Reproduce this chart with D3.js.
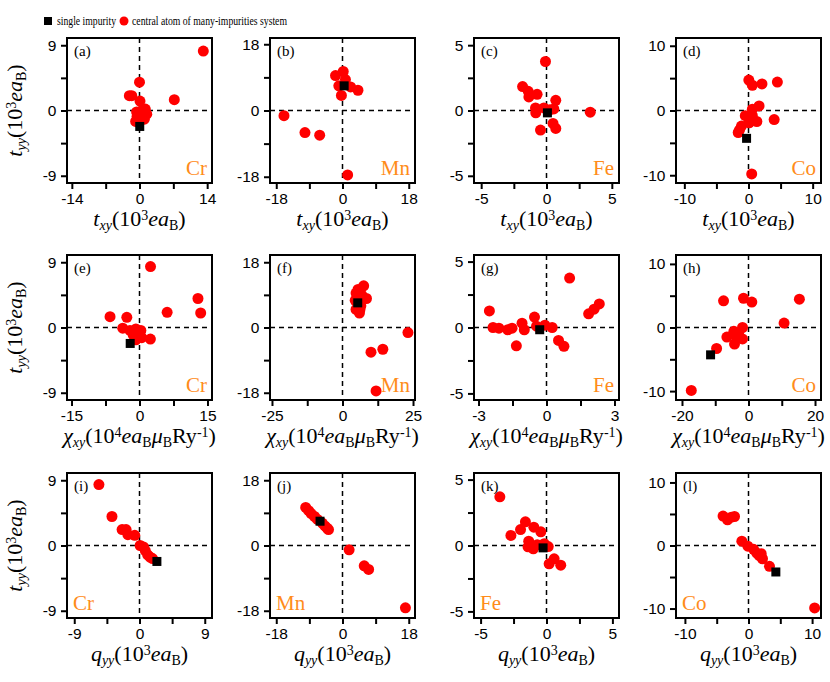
<!DOCTYPE html>
<html><head><meta charset="utf-8">
<script src="https://cdn.jsdelivr.net/npm/d3@7"></script>
<style>body{margin:0;background:#fff}</style>
</head><body>
<svg id="c" width="830" height="682"></svg>
<script>
// ---------- DATA ----------
const panelLabels = ["(a)","(b)","(c)","(d)","(e)","(f)","(g)","(h)","(i)","(j)","(k)","(l)"];
const elements = ["Cr","Mn","Fe","Co"];
const xTickVals = [[-14,0,14],[-18,0,18],[-5,0,5],[-10,0,10],[-15,0,15],[-25,0,25],[-3,0,3],[-20,0,20],[-9,0,9],[-18,0,18],[-5,0,5],[-10,0,10]];
const yTickVals = [[-9,0,9],[-18,0,18],[-5,0,5],[-10,0,10],[-9,0,9],[-18,0,18],[-5,0,5],[-10,0,10],[-9,0,9],[-18,0,18],[-5,0,5],[-10,0,10]];
const xLimits = [15,19.7,5.55,11.3,16,25.7,3.2,21.8,10,19.7,5.5,11.4];
const yLimits = [10,19.7,5.55,11.2,10,20,5.5,11.4,10,20,5.5,11.5];

// single impurity (x, y) per panel
const singleX = [0.05,0.45,0.07,-0.3,-2.05,5.4,-0.3,-11.4,2.4,-6.1,-0.26,4.3];
const singleY = [-2.2,6.7,-0.18,-4.3,-2.2,6.8,-0.17,-4.3,-2.2,6.7,-0.18,-4.2];

// central atoms of many-impurities systems
const aX = [13.2,0,-2.1,-1.6,0.1,7.2,-0.6,0.3,1.2,1.5,-0.5,0.6,-0.8,0.2,1.0,-0.3,0.7,-0.2];
const aY = [8.2,3.9,2.05,2.05,1.3,1.5,-0.2,-0.1,0.2,-0.5,-0.8,-0.6,-1.5,-1.2,-1.2,-1.6,0.1,-0.5];
const bX = [-15.9,-10.2,-6.2,1.4,4.2,-1.9,0.2,-1,-0.3,2.2,0.8];
const bY = [-1.4,-6.0,-6.7,-17.5,5.5,9.5,10.6,6.7,4.1,6.4,8.4];
const cX = [-0.08,-1.83,-1.4,-1.35,-0.72,0.71,3.35,-0.84,-0.82,0.56,0.25,-0.2,0.5,0.71,-0.46];
const cY = [3.75,1.83,1.47,1.04,1.24,0.78,-0.13,0.2,-0.18,0.12,0.05,0.2,-0.99,-1.37,-1.5];
const dX = [0.05,0.6,2.1,4.5,1.65,0.6,4.0,-0.5,1.3,0.3,-1.1,-1.4,-1.6,0.1,0.6,0.5];
const dY = [4.7,3.9,4.1,4.4,0.7,0.2,-1.4,-0.8,-1.7,-0.9,-2.4,-3.0,-3.4,-1.9,-0.8,-9.8];
const eX = [2.43,12.9,13.5,6.1,-6.5,-2.8,-3.7,-2.1,-0.8,0.3,-1.4,0,0.5,-0.8,2.4];
const eY = [8.4,4.0,2.0,2.1,1.5,1.4,-0.1,-0.4,-0.2,-0.4,-1.0,-1.2,-1.4,-1.7,-1.6];
const fX = [23.2,10.1,14.3,11.9,5.5,7.5,4.8,8.5,6.8,4.5,6.5,4.8,6.0,7.0,5.2,6.2];
const fY = [-1.4,-6.8,-6.0,-17.5,10.5,11.5,9.5,8.0,9.0,7.5,6.0,5.0,4.0,7.8,8.5,5.0];
const gX = [1.02,-2.52,1.86,2.1,2.33,-0.53,-1.08,-2.36,-2.1,-1.71,-1.52,-0.98,-1.33,-0.44,-0.07,0.25,0.53,0.77];
const gY = [3.75,1.26,1.04,1.39,1.79,0.79,0.33,0,-0.05,-0.17,-0.05,-0.17,-1.39,0.1,0.18,0.0,-0.98,-1.43];
const hX = [-17.2,15.3,10.7,-7.5,-1.5,1.0,-9.6,-6.5,-4.4,-1.8,-3.5,-4.2,-1.8,-3.0];
const hY = [-9.9,4.45,0.69,4.2,4.6,4.0,-3.3,-1.5,-0.6,0,-1.7,-2.6,-1.8,-0.9];
const iX = [-5.6,-3.8,-2.4,-1.85,-1.6,-0.65,0.09,0.55,0.8,1.13,1.45,1.8];
const iY = [8.4,4.0,2.2,2.2,1.5,1.4,0,-0.2,-0.7,-1.3,-1.6,-1.8];
const jX = [-10,-9.2,-8.5,-7.6,-6.8,-5.5,-4.8,-4.2,-3.8,1.8,5.9,7.1,17.1];
const jY = [10.5,9.6,8.8,8.0,7.2,6.2,5.4,4.8,4.4,-1.2,-5.6,-6.6,-17.2];
const kX = [-3.54,-1.6,-1.97,-2.7,-0.96,-0.43,-1.35,-1.4,-1.0,-0.7,-0.17,0.13,0.2,0.58,1.08];
const kY = [3.69,1.8,1.21,0.76,1.39,1.04,0.33,-0.1,-0.25,0.06,0.14,-0.08,-1.39,-1.01,-1.49];
const lX = [-4.0,-3.3,-2.7,-2.2,-1.05,-0.1,0.8,1.3,1.7,2.0,2.2,3.3,10.4];
const lY = [4.66,4.07,4.5,4.6,0.69,-0.1,-0.6,-1.2,-1.6,-1.3,-2.1,-3.3,-9.9];

const manyX = [aX,bX,cX,dX,eX,fX,gX,hX,iX,jX,kX,lX];
const manyY = [aY,bY,cY,dY,eY,fY,gY,hY,iY,jY,kY,lY];

// ---------- LAYOUT ----------
const colLeft = [67,270,474,676];
const rowTop = [38,255,473];
const pw = 145, ph = 145;
const orange = "#ff8c1a";
const serif = "Liberation Serif";
const sans = "Liberation Sans";

const svg = d3.select("#c");

for (let p = 0; p < 12; p++) {
  const r = Math.floor(p/4), c = p % 4;
  const x0 = colLeft[c], y0 = rowTop[r];
  const x = d3.scaleLinear().domain([-xLimits[p], xLimits[p]]).range([x0, x0+pw]);
  const y = d3.scaleLinear().domain([-yLimits[p], yLimits[p]]).range([y0+ph, y0]);
  const g = svg.append("g");

  const xt = xTickVals[p], yt = yTickVals[p];
  const xMinor = [(xt[0]+xt[1])/2, (xt[1]+xt[2])/2];
  const yMinor = [(yt[0]+yt[1])/2, (yt[1]+yt[2])/2];

  const xAxis = d3.axisBottom(x).tickValues(xt.concat(xMinor)).tickSizeOuter(0).tickSize(6)
    .tickFormat(d => xt.includes(d) ? String(d) : "");
  const yAxis = d3.axisLeft(y).tickValues(yt.concat(yMinor)).tickSizeOuter(0).tickSize(6)
    .tickFormat(d => yt.includes(d) ? String(d) : "");

  const gx = g.append("g").attr("transform", `translate(0,${y0+ph})`).call(xAxis);
  const gy = g.append("g").attr("transform", `translate(${x0},0)`).call(yAxis);
  [gx, gy].forEach(a => {
    a.select(".domain").remove();
    a.selectAll(".tick line").attr("stroke","#000").attr("stroke-width",2);
    a.selectAll(".tick text").style("font-family", sans).style("font-size", "15.5px").attr("fill","#000");
  });
  gx.selectAll(".tick text").attr("dy", "0.76em");
  gy.selectAll(".tick text").attr("dx", "-0.1em");

  // dashed zero lines
  g.append("line").attr("x1", x(0)).attr("x2", x(0)).attr("y1", y0).attr("y2", y0+ph)
    .attr("stroke","#000").attr("stroke-width",1.5).attr("stroke-dasharray","5,4");
  g.append("line").attr("x1", x0).attr("x2", x0+pw).attr("y1", y(0)).attr("y2", y(0))
    .attr("stroke","#000").attr("stroke-width",1.5).attr("stroke-dasharray","5,4");

  // points
  const pts = manyX[p].map((v,i) => [v, manyY[p][i]]);
  g.selectAll("circle.m").data(pts).enter().append("circle")
    .attr("cx", d => x(d[0])).attr("cy", d => y(d[1])).attr("r", 5.5).attr("fill", "#ff0000");
  g.append("rect").attr("x", x(singleX[p]) - 4.5).attr("y", y(singleY[p]) - 4.5)
    .attr("width", 9).attr("height", 9).attr("fill", "#000");

  // frame
  g.append("rect").attr("x", x0).attr("y", y0).attr("width", pw).attr("height", ph)
    .attr("fill","none").attr("stroke","#000").attr("stroke-width",2);

  // panel label
  g.append("text").attr("x", x0+7).attr("y", y0+18).text(panelLabels[p])
    .style("font-family", serif).style("font-size", "15px");

  // element label
  const el = g.append("text").text(elements[c]).style("font-family", serif).style("font-size", "21px").attr("fill", orange);
  if (r < 2) el.attr("x", x0+pw-5).attr("y", y0+ph-8).attr("text-anchor","end");
  else el.attr("x", x0+6).attr("y", y0+ph-8);

  // x axis title
  const tx = g.append("text").attr("x", x0+pw/2).attr("y", y0+ph+43).attr("text-anchor","middle")
    .style("font-family", serif).style("font-size", "22px");
  const sub = (t, txt, italic) => t.append("tspan").style("font-size", "14px").attr("baseline-shift", "-30%").style("font-style", italic ? "italic" : "normal").text(txt);
  const sup = (t, txt) => t.append("tspan").style("font-size", "14px").attr("baseline-shift", "45%").text(txt);
  const plain = (t, txt, italic) => t.append("tspan").style("font-style", italic ? "italic" : "normal").text(txt);
  if (r === 0) {
    plain(tx,"t",true); sub(tx,"xy",true); plain(tx,"(10"); sup(tx,"3"); plain(tx,"ea",true); sub(tx,"B"); plain(tx,")");
  } else if (r === 1) {
    plain(tx,"\u03c7",true); sub(tx,"xy",true); plain(tx,"(10"); sup(tx,"4"); plain(tx,"ea",true); sub(tx,"B"); plain(tx,"\u03bc",true); sub(tx,"B"); plain(tx,"Ry"); sup(tx,"-1"); plain(tx,")");
  } else {
    plain(tx,"q",true); sub(tx,"yy",true); plain(tx,"(10"); sup(tx,"3"); plain(tx,"ea",true); sub(tx,"B"); plain(tx,")");
  }

  // y axis title (first column only)
  if (c === 0) {
    const ty = g.append("text").attr("transform", `translate(${x0-45},${y0+ph/2}) rotate(-90)`)
      .attr("text-anchor","middle").style("font-family", serif).style("font-size", "22px");
    plain(ty,"t",true); sub(ty,"yy",true); plain(ty,"(10"); sup(ty,"3"); plain(ty,"ea",true); sub(ty,"B"); plain(ty,")");
  }
}

// legend
const lg = svg.append("g");
lg.append("rect").attr("x", 44).attr("y", 17).attr("width", 8).attr("height", 8).attr("fill","#000");
lg.append("text").attr("x", 57).attr("y", 25).text("single impurity")
  .style("font-family", serif).style("font-size", "13px").attr("textLength", 59).attr("lengthAdjust", "spacingAndGlyphs");
lg.append("circle").attr("cx", 124).attr("cy", 21).attr("r", 4.5).attr("fill","#ff0000");
lg.append("text").attr("x", 132).attr("y", 25).text("central atom of many-impurities system")
  .style("font-family", serif).style("font-size", "13px").attr("textLength", 155).attr("lengthAdjust", "spacingAndGlyphs");
</script>
</body></html>
